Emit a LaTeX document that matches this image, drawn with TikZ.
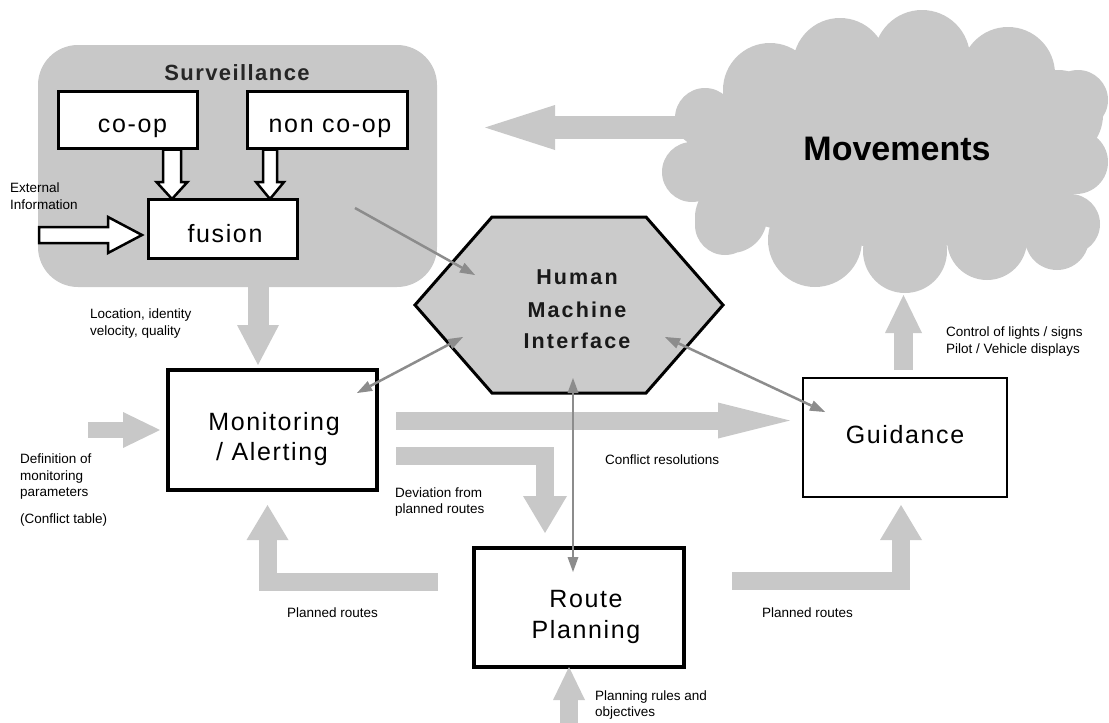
\documentclass[tikz,border=0pt]{standalone}
\usepackage{fontspec}
\setmainfont{Liberation Sans}
\newfontfamily\tracked[LetterSpace=6.5]{Liberation Sans}
\newfontfamily\trackedwide[LetterSpace=10]{Liberation Sans}
\usetikzlibrary{arrows.meta,calc}
\definecolor{flowgray}{HTML}{C8C8C8}
\definecolor{hexgray}{HTML}{CBCBCB}
\definecolor{linkgray}{HTML}{8C8C8C}

\begin{document}
\begin{tikzpicture}[x=1pt,y=-1pt,
  box/.style={draw=black, fill=white, line width=3pt, inner sep=0pt},
  boxtext/.style={anchor=base, inner sep=0pt, font=\tracked\fontsize{25}{30}\selectfont},
  hmitext/.style={anchor=base, inner sep=0pt, text=black!90,
    font=\trackedwide\bfseries\fontsize{21.5}{26}\selectfont},
  flow/.style n args={3}{draw=flowgray, line width=#1, line join=miter, line cap=butt,
    -{Triangle[length=#2, width=#3, line width=0pt]}},
  tipl/.tip={Triangle[length=15pt, width=11pt, line width=0pt]},
  link/.style={draw=linkgray, line width=2.5pt, -tipl},
  linkboth/.style={draw=linkgray, line width=2.5pt, tipl-tipl},
  hollow/.style={draw=black, fill=white, line width=2.5pt, line join=miter},
  note/.style={font=\fontsize{13.5}{16.5}\selectfont, align=left, anchor=west, inner sep=0pt}]

\useasboundingbox (0,0) rectangle (1109,723);

% ---- surveillance group -------------------------------------------------
\node[fill=flowgray, rounded corners=40pt, minimum width=399pt, minimum height=242pt,
      inner sep=0pt] (surv) at (237.5,166) {};
\node[anchor=base, inner sep=0pt, text=black!85, font=\tracked\bfseries\fontsize{22}{26}\selectfont]
      (survtitle) at (237,80) {Surveillance};
\node[box, minimum width=139pt, minimum height=57pt] (coop) at (127.5,119.5) {};
\node[box, minimum width=160pt, minimum height=57pt] (noncoop) at (327,119.5) {};
\node[box, minimum width=149pt, minimum height=59pt] (fusion) at (222.5,228.5) {};
\node[boxtext] (cooplabel) at (132.5,132) {co-op};
\node[boxtext] (noncooplabel) at (330,132) {non co-op};
\node[boxtext] (fusionlabel) at (225,242) {fusion};

% hollow feed arrows into the fusion box
\coordinate (coopOut) at (172,149.5);
\coordinate (noncoopOut) at (270,149.5);
\coordinate (extTail) at (39,235);
\draw[hollow] (coopOut) ++(-9,0) -- ++(0,32.5) -- ++(-6.5,0) -- ++(15.5,17)
  -- ++(15.5,-17) -- ++(-6.5,0) -- ++(0,-32.5) -- cycle;
\draw[hollow] (noncoopOut) ++(-7,0) -- ++(0,32.5) -- ++(-7,0) -- ++(14,17)
  -- ++(14,-17) -- ++(-7,0) -- ++(0,-32.5) -- cycle;
\draw[hollow] (extTail) ++(0,-8) -- ++(69,0) -- ++(0,-10) -- ++(34,18)
  -- ++(-34,18) -- ++(0,-10) -- ++(-69,0) -- cycle;
\node[note] (extnote) at (10,196) {External\\Information};

% ---- movements cloud: a ring of overlapping puffs round a filled core ----
\fill[flowgray]
  (770,90) -- (840,65) -- (922,58) -- (1008,74) -- (1058,115) -- (1078,100)
  -- (1076,162) -- (1070,224) -- (1057,238) -- (987,240) -- (905,251) -- (815,240)
  -- (731,217) -- (725,225) -- (692,172) -- (705,118) -- cycle;
\fill[flowgray]
  (770,90) circle[radius=47] (840,65) circle[radius=47] (922,58) circle[radius=48]
  (1008,74) circle[radius=47] (1058,115) circle[radius=45] (1078,100) circle[radius=30]
  (1076,162) circle[radius=32] (1070,224) circle[radius=30] (1057,238) circle[radius=32]
  (987,240) circle[radius=40] (905,251) circle[radius=42] (815,240) circle[radius=47]
  (731,217) circle[radius=36] (725,225) circle[radius=30] (692,172) circle[radius=30]
  (705,118) circle[radius=30];
\node[anchor=base, inner sep=0pt, font=\bfseries\fontsize{34}{40}\selectfont]
      (mov) at (897,160) {Movements};

% ---- main boxes ---------------------------------------------------------
\node[box, line width=3.5pt, minimum width=209pt, minimum height=120pt] (mon) at (272.5,430) {};
\node[box, line width=2.5pt, minimum width=204pt, minimum height=119pt] (guid) at (905,437.5) {};
\node[box, line width=3.5pt, minimum width=210pt, minimum height=119pt] (route) at (579,607.5) {};
\node[boxtext] (monlabel1) at (274,430) {Monitoring};
\node[boxtext] (monlabel2) at (272,460) {/ Alerting};
\node[boxtext] (guidlabel) at (905,443) {Guidance};
\node[boxtext] (routelabel1) at (586,607) {Route};
\node[boxtext] (routelabel2) at (586,638) {Planning};

% ---- wide grey flow arrows ----------------------------------------------
\coordinate (movOut) at (690,127.5);
\coordinate (survIn) at (485,127.5);
\coordinate (monTop) at (258,365);
\coordinate (defTail) at (88,430);
\coordinate (monLeft) at (160,430);
\coordinate (confTail) at (396,420.5);
\coordinate (guidLeft) at (790,420.5);
\coordinate (devTail) at (396,456);
\coordinate (routeTop) at (545,533);
\coordinate (plLTail) at (438,582);
\coordinate (monBot) at (267.5,505);
\coordinate (plRTail) at (732,581);
\coordinate (guidBot) at (901,505);
\coordinate (guidTop) at (903.5,370);
\coordinate (movBot) at (903.5,295);
\coordinate (rulesTail) at (569,723);
\coordinate (routeBot) at (569,667);

\draw[flow={23pt}{70pt}{45pt}] (movOut) -- (survIn);
\draw[flow={21pt}{40pt}{42pt}] (surv.south -| monTop) -- (monTop);
\draw[flow={16pt}{37pt}{36pt}] (defTail) -- (monLeft);
\draw[flow={18pt}{72pt}{36pt}] (confTail) -- (guidLeft);
\draw[flow={18pt}{37pt}{44pt}] (devTail) -| (routeTop);
\draw[flow={18pt}{35pt}{42pt}] (plLTail) -| (monBot);
\draw[flow={18pt}{35pt}{42pt}] (plRTail) -| (guidBot);
\draw[flow={19pt}{38pt}{37pt}] (guidTop) -- (movBot);
\draw[flow={18pt}{33pt}{32pt}] (rulesTail) -- (routeBot);

% ---- human machine interface --------------------------------------------
\coordinate (hexc) at (569,305);
\draw[fill=hexgray, line width=3pt, line join=miter] ($(hexc)+(-154,0)$) -- ++(77,-88) -- ++(154,0)
  -- ++(77,88) -- ++(-77,88) -- ++(-154,0) -- cycle;
\node[hmitext] (hmi) at (577,317) {Machine};
\node[hmitext] (hmilabel1) at (577,284) {Human};
\node[hmitext] (hmilabel3) at (577,348) {Interface};

% ---- thin interface links -----------------------------------------------
\coordinate (survLink) at (355,208);
\coordinate (hmiNW) at (475,275);
\coordinate (monLink) at (357,393);
\coordinate (hmiSW) at (463,337);
\coordinate (hmiSE) at (665,337);
\coordinate (guidLink) at (825,412);
\coordinate (hmiS) at (573,378);
\coordinate (routeLink) at (573,572);
\draw[link] (survLink) -- (hmiNW);
\draw[linkboth] (monLink) -- (hmiSW);
\draw[linkboth] (hmiSE) -- (guidLink);
\draw[linkboth] (hmiS) -- (routeLink);

% ---- annotations --------------------------------------------------------
\node[note] (locnote) at (90,323.5) {Location, identity\\velocity, quality};
\node[note] (defnote) at (20,477) {Definition of\\monitoring\\parameters};
\node[note] (tablenote) at (20,520) {(Conflict table)};
\node[note] (devnote) at (395,502) {Deviation from\\planned routes};
\node[note] (confnote) at (605,460) {Conflict resolutions};
\node[note] (plLnote) at (287,613) {Planned routes};
\node[note] (plRnote) at (762,613) {Planned routes};
\node[note] (rulesnote) at (595,705) {Planning rules and\\objectives};
\node[note] (ctrlnote) at (946,341.5) {Control of lights / signs\\Pilot / Vehicle displays};

\end{tikzpicture}
\end{document}
